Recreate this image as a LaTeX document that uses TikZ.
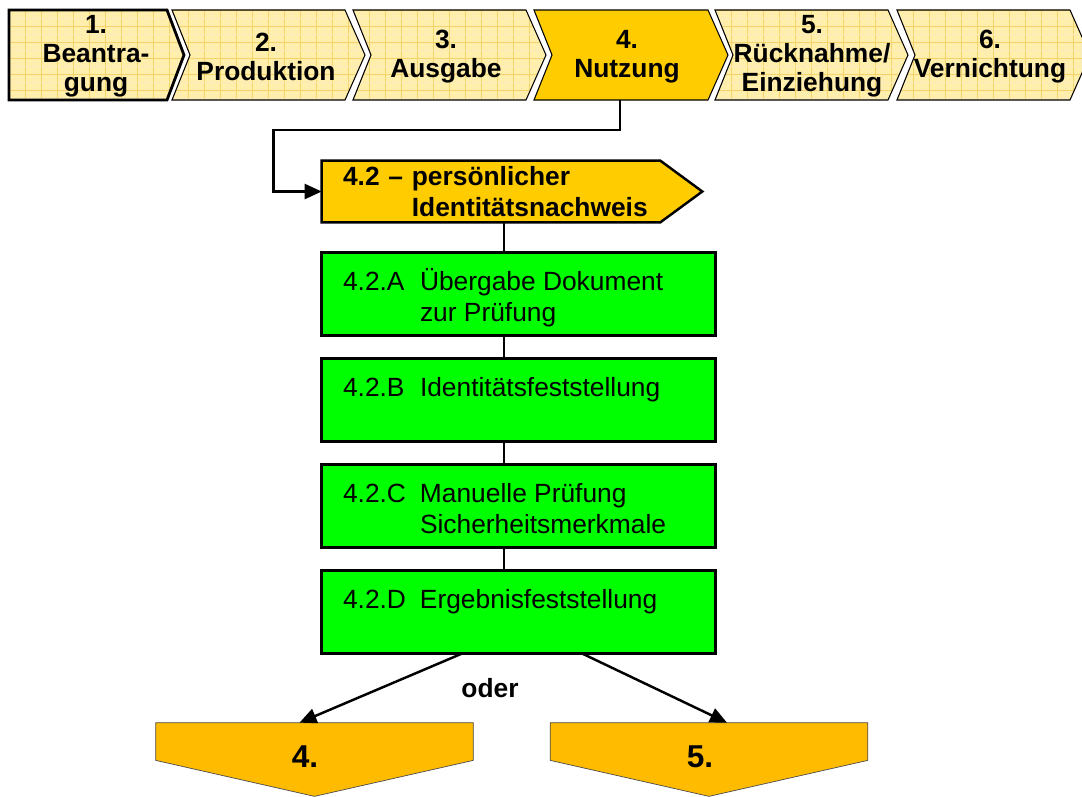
\documentclass[tikz,border=0pt]{standalone}
\usepackage{fontspec}
\setmainfont{Liberation Sans}
\usepackage{xcolor}
\usepackage{tikz}
\usetikzlibrary{arrows.meta,positioning}

\definecolor{phasepaper}{HTML}{FFEFAA}
\definecolor{phasegrid}{HTML}{F5D36A}
\definecolor{phasegold}{HTML}{FFCC00}
\definecolor{stepgreen}{HTML}{00FF00}
\definecolor{outorange}{HTML}{FFBB00}

\newcommand{\phasefont}{\fontsize{15}{16.5}\selectfont\bfseries}
\newcommand{\stepfont}{\fontsize{15}{18}\selectfont}

\tikzset{
  phase/.style={align=center, font=\phasefont, inner sep=0pt},
  phaseline/.style={draw=black, line width=0.6pt},
  gridmajor/.style={phasegrid, line width=0.5pt},
  gridminor/.style={phasegrid!45, line width=0.3pt},
  persbox/.style={fill=phasegold, minimum height=1.22cm, text width=5.92cm, align=left,
    inner xsep=0.42cm, inner ysep=0pt, font=\fontsize{15}{18}\selectfont\bfseries},
  stepbox/.style={draw, line width=1.4pt, fill=stepgreen, minimum width=7.88cm,
    minimum height=1.66cm, inner sep=0pt, outer sep=0pt},
  steptext/.style={align=left, font=\stepfont, inner sep=0pt},
  link/.style={line width=1pt},
  flow/.style={line width=1.4pt, -{Triangle[length=0.34cm,width=0.3cm]}},
  outbox/.style={minimum width=6.34cm, minimum height=0.74cm, inner sep=0pt},
  outedge/.style={fill=outorange, draw=black!70, line width=0.4pt},
  outnum/.style={font=\fontsize{18}{20}\selectfont\bfseries, inner sep=0pt},
}

\begin{document}
\begin{tikzpicture}[x=0.02cm, y=-0.02cm, >=Latex]
  \useasboundingbox (0,0) rectangle (1082,796);
  \clip (0,0) rectangle (1082,796);

  % phase strip
  \begin{scope}
    \clip (9,10) -- (167,10) -- (184,55) -- (167,100) -- (9,100) -- cycle;
    \fill[phasepaper] (9,10) rectangle (184,100);
    \foreach \gx in {17,33,...,184} \draw[gridminor] (\gx,10) -- ++(0,90);
    \foreach \gx in {9,25,...,184} \draw[gridmajor] (\gx,10) -- ++(0,90);
    \foreach \gy in {18,34,...,100} \draw[gridminor] (9,\gy) -- ++(180,0);
    \foreach \gy in {10,26,...,100} \draw[gridmajor] (9,\gy) -- ++(180,0);
  \end{scope}
  \draw[line width=1.6pt] (9,10) -- (167,10) -- (184,55) -- (167,100) -- (9,100) -- cycle;

  \foreach \L in {172,353,715,897}{
    \begin{scope}
      \clip (\L,10) -- ++(173,0) -- ++(20,45) -- ++(-20,45) -- ++(-173,0) -- ++(18,-45) -- cycle;
      \fill[phasepaper] (\L,10) rectangle ++(200,90);
      \foreach \gx in {8,24,...,200} \draw[gridminor] (\L+\gx,10) -- ++(0,90);
      \foreach \gx in {0,16,...,200} \draw[gridmajor] (\L+\gx,10) -- ++(0,90);
      \foreach \gy in {18,34,...,100} \draw[gridminor] (\L,\gy) -- ++(200,0);
      \foreach \gy in {10,26,...,100} \draw[gridmajor] (\L,\gy) -- ++(200,0);
    \end{scope}
    \draw[phaseline] (\L,10) -- ++(173,0) -- ++(20,45) -- ++(-20,45) -- ++(-173,0) -- ++(18,-45) -- cycle;
  }
  \filldraw[fill=phasegold, phaseline] (534,10) -- ++(174,0) -- ++(20,45) -- ++(-20,45) -- ++(-174,0) -- ++(18,-45) -- cycle;

  \node[phase] (ph1) at (96,56) {1.\\Beantra-\\gung};
  \node[phase] (ph2) at (266,57) {2.\\Produktion};
  \node[phase] (ph3) at (446,57) {3.\\Ausgabe};
  \node[phase] (ph4) at (627,57) {4.\\Nutzung};
  \node[phase] (ph5) at (812,56) {5.\\Rücknahme/\\Einziehung};
  \node[phase] (ph6) at (990,57) {6.\\Vernichtung};
  \coordinate (nutz) at (620,100);

  % 4.2 header
  \node[persbox] (pers) at (491,191.5) {4.2 – persönlicher\\\phantom{4.2 – }Identitätsnachweis};
  \fill[phasegold] ([xshift=-1pt]pers.north east) -- ([xshift=0.84cm]pers.east) -- ([xshift=-1pt]pers.south east) -- cycle;
  \draw[line width=1.4pt] (pers.north west) -- (pers.north east) -- ([xshift=0.84cm]pers.east)
    -- (pers.south east) -- (pers.south west) -- cycle;
  \draw[flow] (nutz) -- ++(0,30) -| ([xshift=-0.96cm]pers.west) -- (pers.west);

  % steps
  \node[stepbox, below right=0.6cm and 0cm of pers.south west] (stepA) {};
  \node[stepbox, below=0.46cm of stepA] (stepB) {};
  \node[stepbox, below=0.46cm of stepB] (stepC) {};
  \node[stepbox, below=0.46cm of stepC] (stepD) {};

  \node[steptext, below right=0.26cm and 0.42cm of stepA.north west] (txtA)
    {\rule{0pt}{14pt}\makebox[1.54cm][l]{4.2.A}Übergabe Dokument\\\hspace*{1.54cm}zur Prüfung};
  \node[steptext, below right=0.26cm and 0.42cm of stepB.north west] (txtB)
    {\rule{0pt}{14pt}\makebox[1.54cm][l]{4.2.B}Identitätsfeststellung};
  \node[steptext, below right=0.26cm and 0.42cm of stepC.north west] (txtC)
    {\rule{0pt}{14pt}\makebox[1.54cm][l]{4.2.C}Manuelle Prüfung\\\hspace*{1.54cm}Sicherheitsmerkmale};
  \node[steptext, below right=0.26cm and 0.42cm of stepD.north west] (txtD)
    {\rule{0pt}{14pt}\makebox[1.54cm][l]{4.2.D}Ergebnisfeststellung};

  \coordinate (spine) at ([xshift=-0.3cm]stepA.north);
  \draw[link] (spine) -- (spine |- pers.south);
  \foreach \a/\b in {stepA/stepB,stepB/stepC,stepC/stepD}
    \draw[link] ([xshift=-0.3cm]\a.south) -- ([xshift=-0.3cm]\b.north);

  % outcomes
  \node[outbox] (out4) at (314.5,741.5) {};
  \node[outbox] (out5) at (709,741.5) {};
  \foreach \o in {out4,out5}
    \draw[outedge] (\o.north west) -- (\o.north east) -- (\o.south east)
      -- ([yshift=-0.72cm]\o.south) -- (\o.south west) -- cycle;
  \node[outnum] (num4) at (305,757) {4.};
  \node[outnum] (num5) at (700,757) {5.};

  \draw[flow] ([xshift=-1.12cm]stepD.south) -- ([xshift=-0.3cm]out4.north);
  \draw[flow] ([xshift=1.26cm]stepD.south) -- ([xshift=0.36cm]out5.north);
  \node[font=\fontsize{15}{18}\selectfont\bfseries, inner sep=0pt] (oder) at (490,688) {oder};
\end{tikzpicture}
\end{document}
